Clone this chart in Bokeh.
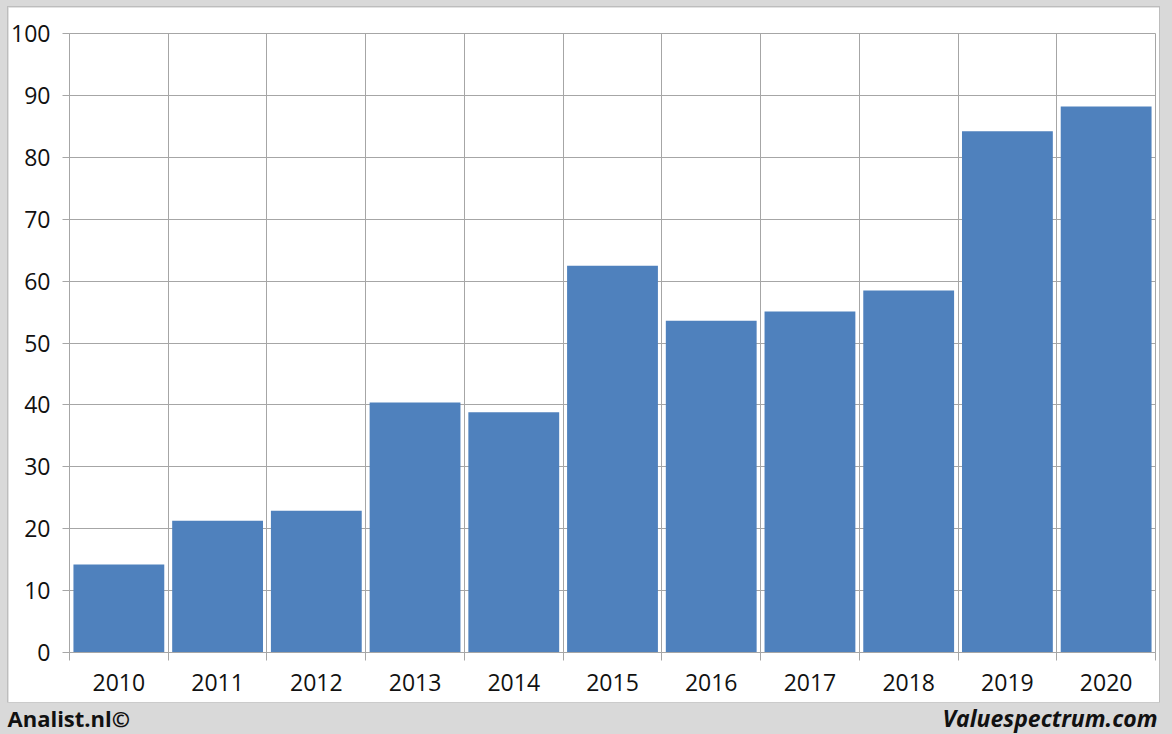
from bokeh.plotting import figure
from bokeh.models import FixedTicker, Range1d, Column
from bokeh.core.properties import value
from bokeh.embed import file_html
from bokeh.resources import INLINE

years = ["2010", "2011", "2012", "2013", "2014", "2015", "2016", "2017", "2018", "2019", "2020"]
values = [14.2, 21.3, 22.9, 40.4, 38.8, 62.5, 53.6, 55.1, 58.5, 84.2, 88.2]
y_ticks = [0, 10, 20, 30, 40, 50, 60, 70, 80, 90, 100]
footer_left = "Analist.nl©"
footer_right = "Valuespectrum.com"

GRID = "#a6a6a6"
BAND = "#d9d9d9"
FONT = "Open Sans"

n = len(years)
centers = [i + 0.5 for i in range(n)]
bounds = list(range(n + 1))

p = figure(width=1151, height=695, output_backend="svg", toolbar_location=None,
           x_range=Range1d(0, n), y_range=Range1d(0, 100),
           min_border_left=61, min_border_right=4, min_border_top=26, min_border_bottom=50,
           margin=(7, 13, 0, 8), frame_align=False,
           styles={"box-shadow": "0 0 0 1px #bdbdbd"})
p.border_fill_color = "white"
p.background_fill_color = "white"
p.outline_line_color = GRID

p.vbar(x=centers, top=values, width=0.92, fill_color="#4f81bd", line_color=None)

# x axis
p.xaxis.ticker = FixedTicker(ticks=centers, minor_ticks=bounds)
p.xaxis.major_label_overrides = {c: y for c, y in zip(centers, years)}
p.xaxis.major_tick_out = 0
p.xaxis.major_tick_in = 0
p.xaxis.minor_tick_out = 8
p.xaxis.minor_tick_in = 0
p.xaxis.minor_tick_line_color = GRID
p.xaxis.axis_line_color = GRID
p.xaxis.major_label_standoff = 13
p.xgrid.ticker = FixedTicker(ticks=bounds)

# y axis
p.yaxis.ticker = FixedTicker(ticks=y_ticks)
p.yaxis.major_tick_out = 7
p.yaxis.major_tick_in = 0
p.yaxis.minor_tick_out = 0
p.yaxis.minor_tick_in = 0
p.yaxis.major_tick_line_color = GRID
p.yaxis.axis_line_color = GRID
p.yaxis.major_label_standoff = 12

for ax in (p.xaxis, p.yaxis):
    ax.major_label_text_font = FONT
    ax.major_label_text_font_size = "23px"
    ax.major_label_text_color = "#111111"

p.xgrid.grid_line_color = GRID
p.ygrid.grid_line_color = GRID

# footer band
f = figure(width=1172, height=32, output_backend="svg", toolbar_location=None,
           x_range=Range1d(0, 1172), y_range=Range1d(0, 32),
           x_axis_type=None, y_axis_type=None, frame_align=False,
           min_border=0, min_border_left=0, min_border_right=0,
           min_border_top=0, min_border_bottom=0, margin=0)
f.border_fill_color = BAND
f.background_fill_color = BAND
f.outline_line_color = None
f.grid.visible = False
f.text(x=[7], y=[17], text=[footer_left], text_font=value(FONT), text_font_style="bold",
       text_font_size="22px", text_color="#111111", text_baseline="middle",
       text_align="left")
f.text(x=[1157], y=[17], text=[footer_right], text_font=value(FONT),
       text_font_style="bold italic", text_font_size="23px", text_color="#111111",
       text_baseline="middle", text_align="right")

layout = Column(p, f, spacing=0, styles={"background-color": BAND})

open("out.html", "w").write(file_html(layout, INLINE))
